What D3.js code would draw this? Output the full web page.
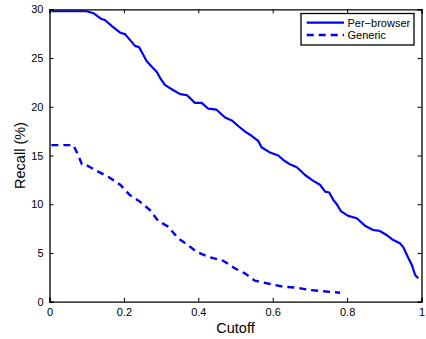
<!DOCTYPE html>
<html>
<head>
<meta charset="utf-8">
<script src="https://cdn.jsdelivr.net/npm/d3@7"></script>
<style>
  body { margin: 0; background: #fff; }
  svg { display: block; font-family: "Liberation Sans", Arial, sans-serif; }
</style>
</head>
<body>
<div id="chart"></div>
<script>
var width = 426, height = 339;
var margin = {left: 49.5, right: 4.5, top: 9.3, bottom: 37.3};

// Per-browser curve (cutoff, recall %)
var perCutoff = [0.005, 0.1, 0.118, 0.14, 0.149, 0.167, 0.19, 0.203, 0.23, 0.241, 0.261, 0.275, 0.288, 0.30, 0.31,
  0.333, 0.351, 0.369, 0.391, 0.409, 0.427, 0.449, 0.472, 0.49, 0.508, 0.526, 0.544, 0.561, 0.57, 0.593, 0.615,
  0.63, 0.646, 0.665, 0.687, 0.709, 0.727, 0.741, 0.752, 0.763, 0.774, 0.783, 0.803, 0.826, 0.848, 0.87, 0.888,
  0.906, 0.924, 0.942, 0.951, 0.965, 0.974, 0.983, 0.991];
var perRecall = [29.8, 29.8, 29.6, 29.0, 28.9, 28.3, 27.6, 27.45, 26.25, 26.1, 24.7, 24.1, 23.6, 22.8, 22.25,
  21.7, 21.3, 21.2, 20.4, 20.4, 19.8, 19.7, 18.9, 18.6, 18.0, 17.45, 17.0, 16.5, 15.85, 15.3, 15.0,
  14.5, 14.1, 13.8, 13.0, 12.4, 12.0, 11.3, 11.2, 10.45, 9.9, 9.3, 8.8, 8.56, 7.8, 7.36, 7.26,
  6.85, 6.33, 6.0, 5.6, 4.46, 3.77, 2.74, 2.4];

// Generic curve
var genCutoff = [0.005, 0.064, 0.077, 0.087, 0.1, 0.131, 0.163, 0.19, 0.216, 0.243, 0.27, 0.292, 0.319, 0.346,
  0.373, 0.396, 0.427, 0.467, 0.499, 0.526, 0.552, 0.593, 0.629, 0.665, 0.7, 0.736, 0.781];
var genRecall = [16.06, 16.06, 15.06, 14.1, 14.0, 13.35, 12.7, 12.0, 10.95, 10.27, 9.4, 8.3, 7.7, 6.5,
  5.8, 5.1, 4.6, 4.2, 3.4, 2.9, 2.16, 1.82, 1.54, 1.44, 1.2, 1.07, 0.92];

var xTicks = [0, 0.2, 0.4, 0.6, 0.8, 1];
var yTicks = [0, 5, 10, 15, 20, 25, 30];
var seriesNames = ["Per\u2212browser", "Generic"];

var svg = d3.select("#chart").append("svg")
    .attr("width", width)
    .attr("height", height);

var x = d3.scaleLinear().domain([0, 1]).range([margin.left, width - margin.right]);
var y = d3.scaleLinear().domain([0, 30]).range([height - margin.bottom, margin.top]);

var blue = "#0000ff";

function pts(xs, ys) {
    return xs.map(function(v, i) { return [v, ys[i]]; });
}

var line = d3.line()
    .x(function(d) { return x(d[0]); })
    .y(function(d) { return y(d[1]); });

svg.append("path")
    .attr("d", line(pts(perCutoff, perRecall)))
    .attr("fill", "none")
    .attr("stroke", blue)
    .attr("stroke-width", 2.2)
    .attr("stroke-linejoin", "round");

svg.append("path")
    .attr("d", line(pts(genCutoff, genRecall)))
    .attr("fill", "none")
    .attr("stroke", blue)
    .attr("stroke-width", 2.4)
    .attr("stroke-dasharray", "7,5");

// axes, ticks inward on all four sides
var tickLen = 4;
var fmtX = function(d) { return d === 0 ? "0" : d === 1 ? "1" : d3.format(".1f")(d); };

svg.append("g")
    .attr("transform", "translate(0," + y(0) + ")")
    .call(d3.axisBottom(x).tickValues(xTicks).tickSize(-tickLen).tickPadding(7).tickFormat(fmtX));
svg.append("g")
    .attr("transform", "translate(0," + y(30) + ")")
    .call(d3.axisTop(x).tickValues(xTicks).tickSize(-tickLen).tickFormat(""));
svg.append("g")
    .attr("transform", "translate(" + x(0) + ",0)")
    .call(d3.axisLeft(y).tickValues(yTicks).tickSize(-tickLen).tickPadding(6));
svg.append("g")
    .attr("transform", "translate(" + x(1) + ",0)")
    .call(d3.axisRight(y).tickValues(yTicks).tickSize(-tickLen).tickFormat(""));

svg.selectAll(".domain").attr("stroke", "#000").attr("stroke-width", 1.3);
svg.selectAll(".tick line").attr("stroke", "#000");
svg.selectAll(".tick text")
    .attr("font-size", 11)
    .attr("font-family", "Liberation Sans, Arial, sans-serif")
    .attr("fill", "#000");

// axis labels
svg.append("text")
    .attr("x", (x(0) + x(1)) / 2)
    .attr("y", 333)
    .attr("text-anchor", "middle")
    .attr("font-size", 14.5)
    .text("Cutoff");

svg.append("text")
    .attr("transform", "translate(25," + (y(0) + y(30)) / 2 + ") rotate(-90)")
    .attr("text-anchor", "middle")
    .attr("font-size", 14.5)
    .text("Recall (%)");

// legend
var leg = svg.append("g");
leg.append("rect")
    .attr("x", 301).attr("y", 13.5)
    .attr("width", 113).attr("height", 31.5)
    .attr("fill", "#fff")
    .attr("stroke", "#000")
    .attr("stroke-width", 1.3);

seriesNames.forEach(function(name, i) {
    var ly = 22.7 + i * 12.3;
    leg.append("line")
        .attr("x1", 306.7).attr("x2", 344)
        .attr("y1", ly).attr("y2", ly)
        .attr("stroke", blue)
        .attr("stroke-width", i === 0 ? 2.2 : 2.4)
        .attr("stroke-dasharray", i === 0 ? null : "7,5");
    leg.append("text")
        .attr("x", 347.5).attr("y", ly + 4)
        .attr("font-size", 11)
        .text(name);
});
</script>
</body>
</html>
